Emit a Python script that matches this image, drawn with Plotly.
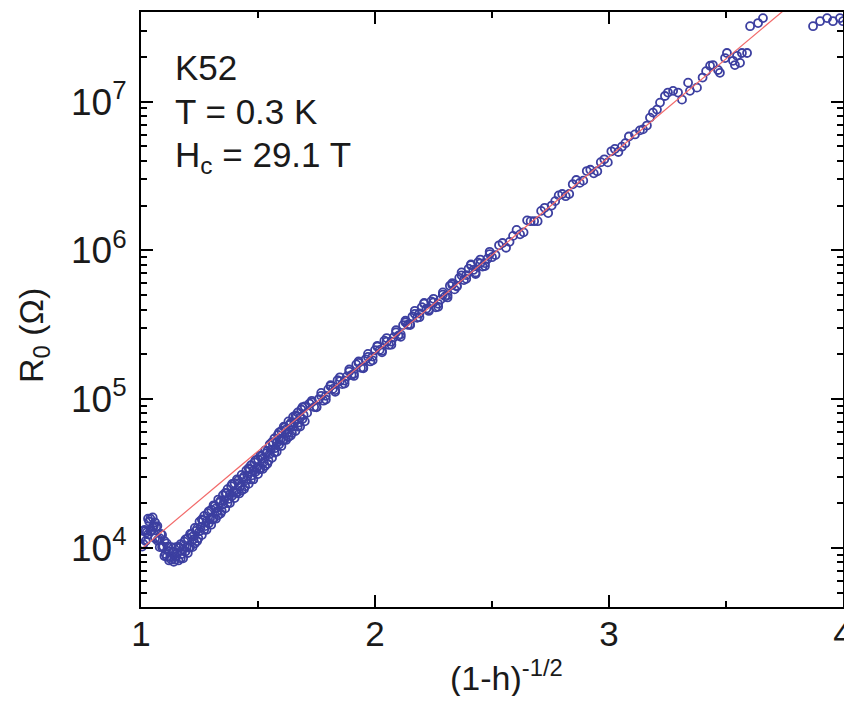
import plotly.graph_objects as go

# ---- data (x = (1-h)^-1/2, R0 in ohm) ----
x_low = [1.00, 1.01, 1.02, 1.03, 1.04, 1.05, 1.06, 1.07, 1.08, 1.09,
         1.10, 1.11, 1.12, 1.13, 1.14, 1.15, 1.16, 1.17, 1.18, 1.19,
         1.20, 1.21, 1.22, 1.23, 1.24, 1.25, 1.26, 1.27, 1.28, 1.29,
         1.30, 1.31, 1.32, 1.33, 1.34, 1.35, 1.36, 1.37, 1.38, 1.39,
         1.40, 1.41, 1.42, 1.43, 1.44, 1.45, 1.46, 1.47, 1.48, 1.49,
         1.50, 1.51, 1.52, 1.53, 1.54, 1.55, 1.56, 1.57, 1.58, 1.59,
         1.60, 1.61, 1.62, 1.63, 1.64, 1.65, 1.66, 1.67, 1.68, 1.69,
         1.70]
r_low = [1.16e4, 1.06e4, 1.30e4, 1.23e4, 1.57e4, 1.38e4, 1.48e4, 1.12e4, 1.16e4, 1.01e4,
         1.11e4, 8.71e3, 9.44e3, 8.32e3, 9.44e3, 8.71e3, 1.02e4, 8.51e3, 9.77e3, 9.44e3,
         1.16e4, 1.01e4, 1.19e4, 1.07e4, 1.35e4, 1.29e4, 1.55e4, 1.32e4, 1.51e4, 1.46e4,
         1.80e4, 1.57e4, 1.84e4, 1.66e4, 2.07e4, 1.95e4, 2.34e4, 2.00e4, 2.29e4, 2.24e4,
         2.72e4, 2.34e4, 2.72e4, 2.43e4, 3.02e4, 2.85e4, 3.43e4, 2.88e4, 3.31e4, 3.24e4,
         3.94e4, 3.39e4, 3.98e4, 3.55e4, 4.47e4, 4.27e4, 5.13e4, 4.37e4, 5.07e4, 4.95e4,
         6.10e4, 5.31e4, 6.24e4, 5.56e4, 6.92e4, 6.53e4, 7.76e4, 6.53e4, 7.50e4, 7.33e4,
         8.91e4]

x_low2 = [1.005, 1.015, 1.025, 1.035, 1.045, 1.055, 1.065, 1.075, 1.085, 1.095,
          1.105, 1.115, 1.125, 1.135, 1.145, 1.155, 1.165, 1.175, 1.185, 1.195,
          1.205, 1.215, 1.225, 1.235, 1.245, 1.255, 1.265, 1.275, 1.285, 1.295,
          1.305, 1.315, 1.325, 1.335, 1.345, 1.355, 1.365, 1.375, 1.385, 1.395,
          1.405, 1.415, 1.425, 1.435, 1.445, 1.455, 1.465, 1.475, 1.485, 1.495,
          1.505, 1.515, 1.525, 1.535, 1.545, 1.555, 1.565, 1.575, 1.585, 1.595,
          1.605, 1.615, 1.625, 1.635, 1.645, 1.655, 1.665, 1.675, 1.685, 1.695]
r_low2 = [1.02e4, 1.32e4, 1.27e4, 1.50e4, 1.30e4, 1.40e4, 1.38e4, 1.14e4, 1.24e4, 1.02e4,
          9.07e3, 1.02e4, 8.71e3, 9.39e3, 8.32e3, 9.23e3, 1.00e4, 9.07e3, 1.10e4, 1.01e4,
          1.00e4, 1.23e4, 1.14e4, 1.30e4, 1.16e4, 1.38e4, 1.53e4, 1.40e4, 1.71e4, 1.57e4,
          1.55e4, 1.91e4, 1.76e4, 2.01e4, 1.77e4, 2.09e4, 2.32e4, 2.13e4, 2.60e4, 2.38e4,
          2.33e4, 2.84e4, 2.59e4, 2.93e4, 2.59e4, 3.05e4, 3.37e4, 3.07e4, 3.76e4, 3.45e4,
          3.37e4, 4.12e4, 3.78e4, 4.32e4, 3.85e4, 4.57e4, 5.07e4, 4.68e4, 5.75e4, 5.31e4,
          5.25e4, 6.46e4, 5.92e4, 6.72e4, 5.92e4, 6.96e4, 7.63e4, 6.96e4, 8.51e4, 7.81e4]

# upper / lower edge of the thick low-field band
x_low_up = [1.01, 1.03, 1.05, 1.07, 1.09, 1.11, 1.13, 1.15, 1.17, 1.19,
            1.21, 1.23, 1.25, 1.27, 1.29, 1.31, 1.33, 1.35, 1.37, 1.39,
            1.41, 1.43, 1.45, 1.47, 1.49, 1.51, 1.53, 1.55, 1.57, 1.59,
            1.61, 1.63, 1.65, 1.67, 1.69]
r_low_up = [1.30e4, 1.57e4, 1.60e4, 1.40e4, 1.22e4, 1.07e4, 1.01e4, 1.01e4, 1.06e4, 1.14e4,
            1.24e4, 1.36e4, 1.50e4, 1.64e4, 1.76e4, 1.93e4, 2.11e4, 2.26e4, 2.48e4, 2.69e4,
            2.88e4, 3.09e4, 3.31e4, 3.59e4, 3.89e4, 4.17e4, 4.52e4, 4.95e4, 5.43e4, 5.96e4,
            6.53e4, 7.08e4, 7.59e4, 8.13e4, 8.81e4]
x_low_dn = [1.02, 1.04, 1.06, 1.08, 1.10, 1.12, 1.14, 1.16, 1.18, 1.20,
            1.22, 1.24, 1.26, 1.28, 1.30, 1.32, 1.34, 1.36, 1.38, 1.40,
            1.42, 1.44, 1.46, 1.48, 1.50, 1.52, 1.54, 1.56, 1.58, 1.60,
            1.62, 1.64, 1.66, 1.68, 1.70]
r_low_dn = [1.11e4, 1.29e4, 1.16e4, 1.01e4, 8.81e3, 8.22e3, 8.04e3, 8.22e3, 8.51e3, 9.23e3,
            1.01e4, 1.11e4, 1.22e4, 1.32e4, 1.43e4, 1.57e4, 1.70e4, 1.84e4, 2.00e4, 2.16e4,
            2.32e4, 2.48e4, 2.69e4, 2.88e4, 3.13e4, 3.39e4, 3.67e4, 4.03e4, 4.42e4, 4.84e4,
            5.31e4, 5.69e4, 6.10e4, 6.53e4, 7.08e4]

x_mid = [1.72, 1.74, 1.76, 1.78, 1.80, 1.82, 1.84, 1.86, 1.88, 1.90,
         1.92, 1.94, 1.96, 1.98, 2.00, 2.02, 2.04, 2.06, 2.08, 2.10,
         2.12, 2.14, 2.16, 2.18, 2.20, 2.22, 2.24, 2.26, 2.28, 2.30,
         2.32, 2.34, 2.36, 2.38, 2.40, 2.42, 2.44, 2.46, 2.48, 2.50]
r_mid = [9.33e4, 8.83e4, 1.00e5, 9.75e4, 1.16e5, 1.17e5, 1.34e5, 1.26e5, 1.42e5, 1.45e5,
         1.71e5, 1.62e5, 1.85e5, 1.79e5, 2.13e5, 2.14e5, 2.47e5, 2.31e5, 2.60e5, 2.67e5,
         3.14e5, 3.16e5, 3.59e5, 3.52e5, 4.15e5, 4.06e5, 4.53e5, 4.14e5, 4.66e5, 4.90e5,
         5.77e5, 5.46e5, 6.52e5, 6.31e5, 7.53e5, 7.38e5, 8.30e5, 7.78e5, 8.75e5, 8.99e5]

x_mid2 = [1.71, 1.73, 1.75, 1.77, 1.79, 1.81, 1.83, 1.85, 1.87, 1.89,
          1.91, 1.93, 1.95, 1.97, 1.99, 2.01, 2.03, 2.05, 2.07, 2.09,
          2.11, 2.13, 2.15, 2.17, 2.19, 2.21, 2.23, 2.25, 2.27, 2.29,
          2.31, 2.33, 2.35, 2.37, 2.39, 2.41, 2.43, 2.45, 2.47, 2.49]
r_mid2 = [8.07e4, 9.51e4, 8.89e4, 1.05e5, 1.05e5, 1.22e5, 1.15e5, 1.32e5, 1.33e5, 1.53e5,
          1.48e5, 1.75e5, 1.63e5, 1.92e5, 1.93e5, 2.25e5, 2.11e5, 2.43e5, 2.43e5, 2.81e5,
          2.72e5, 3.28e5, 3.18e5, 3.74e5, 3.76e5, 4.38e5, 4.00e5, 4.46e5, 4.37e5, 5.04e5,
          4.99e5, 5.87e5, 5.77e5, 6.79e5, 6.81e5, 7.94e5, 7.10e5, 8.18e5, 8.20e5, 9.44e5]

x_mid_up = [1.73, 1.77, 1.81, 1.85, 1.89, 1.93, 1.97, 2.01, 2.05, 2.09,
            2.13, 2.17, 2.21, 2.25, 2.29, 2.33, 2.37, 2.41, 2.45, 2.49]
r_mid_up = [9.73e4, 1.10e5, 1.24e5, 1.40e5, 1.58e5, 1.79e5, 2.01e5, 2.28e5, 2.57e5, 2.90e5,
            3.36e5, 3.92e5, 4.43e5, 4.72e5, 5.21e5, 6.01e5, 7.11e5, 8.04e5, 8.67e5, 9.77e5]
x_mid_dn = [1.75, 1.79, 1.83, 1.87, 1.91, 1.95, 1.99, 2.03, 2.07, 2.11,
            2.15, 2.19, 2.23, 2.27, 2.31, 2.35, 2.39, 2.43, 2.47]
r_mid_dn = [8.79e4, 9.93e4, 1.12e5, 1.27e5, 1.43e5, 1.61e5, 1.82e5, 2.06e5, 2.32e5, 2.62e5,
            3.14e5, 3.55e5, 3.91e5, 4.17e5, 4.82e5, 5.70e5, 6.43e5, 6.93e5, 7.83e5]

x_high = [2.53, 2.56, 2.59, 2.62, 2.65, 2.68, 2.71, 2.74, 2.77, 2.80,
          2.83, 2.86, 2.89, 2.92, 2.95, 2.98, 3.01, 3.04, 3.07,
          3.111, 3.132, 3.145, 3.162, 3.175, 3.188, 3.205, 3.218, 3.239, 3.252,
          3.274, 3.295, 3.312, 3.338, 3.346, 3.376, 3.400, 3.415, 3.432, 3.444,
          3.466, 3.474, 3.496, 3.504, 3.530, 3.538, 3.547, 3.560, 3.568, 3.590,
          3.603, 3.637, 3.658,
          3.872, 3.902, 3.932, 3.957, 3.987, 4.000]
r_high = [1.08e6, 1.04e6, 1.25e6, 1.28e6, 1.59e6, 1.57e6, 1.84e6, 1.78e6, 2.14e6, 2.39e6,
          2.39e6, 2.97e6, 2.94e6, 3.48e6, 3.40e6, 4.09e6, 4.63e6, 4.58e6, 5.25e6,
          6.01e6, 6.40e6, 6.50e6, 6.90e6, 7.80e6, 8.43e6, 8.83e6, 9.84e6, 1.09e7, 1.15e7,
          1.18e7, 1.15e7, 1.03e7, 1.34e7, 1.18e7, 1.24e7, 1.45e7, 1.60e7, 1.74e7, 1.76e7,
          1.63e7, 1.56e7, 1.96e7, 2.12e7, 1.88e7, 1.76e7, 2.03e7, 1.82e7, 2.12e7, 2.12e7,
          3.21e7, 3.37e7, 3.64e7,
          3.21e7, 3.47e7, 3.64e7, 3.47e7, 3.64e7, 3.47e7]

x_high2 = [2.515, 2.545, 2.575, 2.605, 2.635, 2.665, 2.695, 2.725, 2.755, 2.785,
           2.815, 2.845, 2.875, 2.905, 2.935, 2.965, 2.995, 3.025, 3.055, 3.085]
r_high2 = [9.29e5, 1.12e6, 1.14e6, 1.37e6, 1.32e6, 1.57e6, 1.57e6, 1.93e6, 2.00e6, 2.34e6,
           2.31e6, 2.78e6, 2.84e6, 3.41e6, 3.29e6, 3.91e6, 3.90e6, 4.80e6, 4.97e6, 5.82e6]

# activated-scaling fit line
fit_x = [1.0, 3.75]
fit_r = [9.77e3, 4.14e7]

x_ticks = [1, 2, 3, 4]
x_tick_labels = ["1", "2", "3", "4"]
y_ticks = [1e4, 1e5, 1e6, 1e7]
y_tick_labels = ["10<sup>4</sup>", "10<sup>5</sup>", "10<sup>6</sup>", "10<sup>7</sup>"]

x_data = x_low + x_low2 + x_low_up + x_low_dn + x_mid + x_mid2 + x_mid_up + x_mid_dn + x_high + x_high2
r_data = r_low + r_low2 + r_low_up + r_low_dn + r_mid + r_mid2 + r_mid_up + r_mid_dn + r_high + r_high2

FONT = "Liberation Sans, Arial, sans-serif"
TXT = "#1a1a1a"
BLUE = "#3c3fa0"

fig = go.Figure()
fig.add_trace(go.Scatter(
    x=x_data, y=r_data, mode="markers",
    marker=dict(symbol="circle-open", size=8, color=BLUE,
                line=dict(width=1.8, color=BLUE)),
    showlegend=False))
fig.add_trace(go.Scatter(
    x=fit_x, y=fit_r, mode="lines",
    line=dict(color="#f26a6a", width=1.2), showlegend=False))

minor_y = [m * 10 ** e for e in range(3, 8) for m in range(2, 10)]

# page body has an 8px margin: figure is sized/offset so the plot box lands
# at x 141..843, y 12..607 of the 852x704 window
fig.update_layout(
    width=844, height=688,
    margin=dict(l=133, r=9, t=4, b=89, autoexpand=False),
    paper_bgcolor="white", plot_bgcolor="white",
    font=dict(family=FONT, size=34, color=TXT),
    xaxis=dict(range=[1, 4], tickmode="array", tickvals=x_ticks, ticktext=x_tick_labels,
               ticks="inside", ticklen=12, tickwidth=1.5, tickcolor="black",
               showline=True, linecolor="black", linewidth=2, mirror="allticks",
               showgrid=False, zeroline=False, automargin=False, ticklabelstandoff=-5,
               ticklabeloverflow="allow",
               tickfont=dict(family=FONT, size=35, color=TXT),
               minor=dict(tickmode="array", tickvals=[1.5, 2.5, 3.5], ticks="inside",
                          ticklen=6, tickwidth=1.5, tickcolor="black", showgrid=False)),
    yaxis=dict(type="log", range=[3.60206, 7.60206], tickmode="array",
               tickvals=y_ticks, ticktext=y_tick_labels,
               ticks="inside", ticklen=12, tickwidth=1.5, tickcolor="black",
               showline=True, linecolor="black", linewidth=2, mirror="allticks",
               showgrid=False, zeroline=False, automargin=False, ticklabelstandoff=5,
               tickfont=dict(family=FONT, size=37, color=TXT),
               minor=dict(tickmode="array", tickvals=minor_y, ticks="inside",
                          ticklen=6, tickwidth=1.5, tickcolor="black", showgrid=False)),
)

ann_font = dict(family=FONT, size=35, color=TXT)
fig.add_annotation(text="K52", xref="paper", yref="paper", x=0.045, y=0.9067,
                   xanchor="left", yanchor="middle", showarrow=False, font=ann_font)
fig.add_annotation(text="T = 0.3 K", xref="paper", yref="paper", x=0.045, y=0.8328,
                   xanchor="left", yanchor="middle", showarrow=False, font=ann_font)
fig.add_annotation(text="H<sub>c</sub> = 29.1 T", xref="paper", yref="paper", x=0.045, y=0.757,
                   xanchor="left", yanchor="middle", showarrow=False, font=ann_font)
# axis titles
title_font = dict(family=FONT, size=34, color=TXT)
fig.add_annotation(text="(1-h)<sup>-1/2</sup>", xref="paper", yref="paper", x=0.52, y=-0.115,
                   xanchor="center", yanchor="middle", showarrow=False, font=title_font)
fig.add_annotation(text="R<sub>0</sub> (Ω)", xref="paper", yref="paper", x=-0.154, y=0.457,
                   xanchor="center", yanchor="middle", textangle=-90, showarrow=False,
                   font=title_font)

fig.write_html("out.html")
